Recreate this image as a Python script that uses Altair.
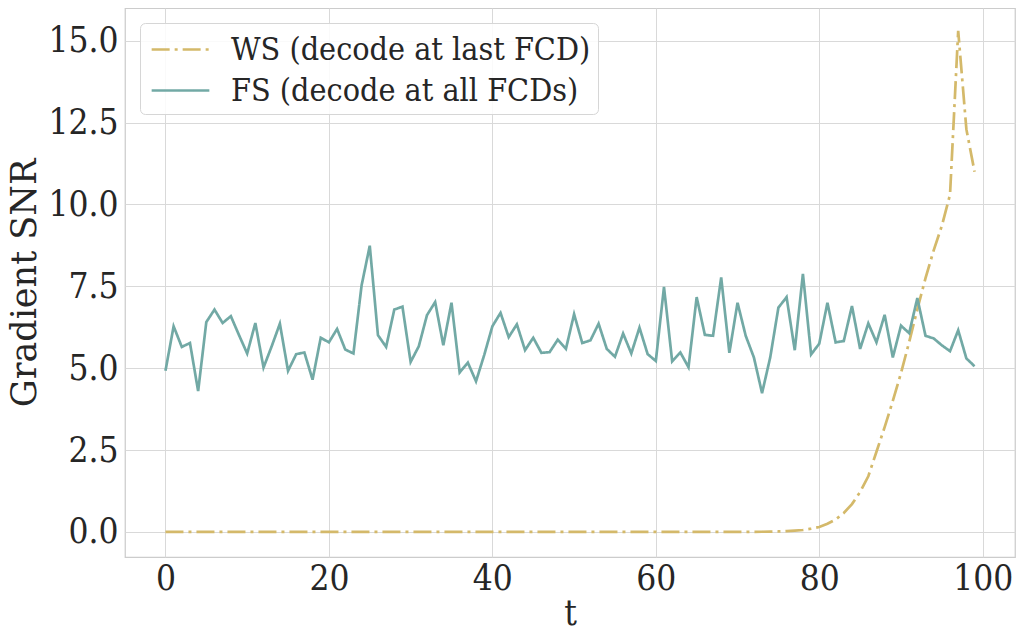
import altair as alt
import pandas as pd

WS_LABEL = "WS (decode at last FCD)"
FS_LABEL = "FS (decode at all FCDs)"

t_values = list(range(100))

fs_values = [
    4.92, 6.28, 5.65, 5.77, 4.30, 6.41, 6.79, 6.38, 6.59, 6.01,
    5.45, 6.38, 5.02, 5.67, 6.36, 4.92, 5.43, 5.48, 4.65, 5.93,
    5.79, 6.20, 5.57, 5.45, 7.53, 8.74, 6.01, 5.65, 6.79, 6.88,
    5.19, 5.67, 6.62, 7.02, 5.70, 7.00, 4.87, 5.17, 4.60, 5.40,
    6.28, 6.69, 5.95, 6.34, 5.55, 5.93, 5.47, 5.49, 5.87, 5.59,
    6.65, 5.77, 5.85, 6.36, 5.59, 5.35, 6.06, 5.45, 6.24, 5.43,
    5.22, 7.48, 5.21, 5.48, 5.03, 7.17, 6.02, 5.99, 7.77, 5.47,
    7.00, 5.99, 5.33, 4.24, 5.33, 6.85, 7.17, 5.55, 7.88, 5.42,
    5.75, 7.00, 5.79, 5.83, 6.90, 5.59, 6.37, 5.79, 6.63, 5.33,
    6.30, 6.07, 7.14, 5.99, 5.91, 5.70, 5.52, 6.16, 5.30, 5.06,
]

ws_values = [
    0.0, 0.0, 0.0, 0.0, 0.0, 0.0, 0.0, 0.0, 0.0, 0.0,
    0.0, 0.0, 0.0, 0.0, 0.0, 0.0, 0.0, 0.0, 0.0, 0.0,
    0.0, 0.0, 0.0, 0.0, 0.0, 0.0, 0.0, 0.0, 0.0, 0.0,
    0.0, 0.0, 0.0, 0.0, 0.0, 0.0, 0.0, 0.0, 0.0, 0.0,
    0.0, 0.0, 0.0, 0.0, 0.0, 0.0, 0.0, 0.0, 0.0, 0.0,
    0.0, 0.0, 0.0, 0.0, 0.0, 0.0, 0.0, 0.0, 0.0, 0.0,
    0.0, 0.0, 0.0, 0.0, 0.0, 0.0, 0.0, 0.0, 0.0, 0.0,
    0.001, 0.002, 0.004, 0.006, 0.01, 0.015, 0.025, 0.04, 0.06, 0.1,
    0.15, 0.25, 0.38, 0.58, 0.85, 1.22, 1.7, 2.45, 3.2, 4.0,
    4.85, 5.8, 6.8, 7.75, 8.6, 9.35, 10.3, 15.3, 12.3, 11.0,
]

series_names = [WS_LABEL, FS_LABEL]
series_colors = ["#d4b96a", "#72a9a5"]
series_dashes = [[18, 5, 3, 5], [1, 0]]

x_ticks = [0, 20, 40, 60, 80, 100]
y_ticks = [0.0, 2.5, 5.0, 7.5, 10.0, 12.5, 15.0]

rows = []
for i, t in enumerate(t_values):
    rows.append({"t": t, "value": ws_values[i], "series": WS_LABEL, "k": 0})
for i, t in enumerate(t_values):
    rows.append({"t": t, "value": fs_values[i], "series": FS_LABEL, "k": 1})
df = pd.DataFrame(rows)

FONT = "DejaVu Serif Condensed, DejaVu Serif"
TXT = "#262626"

chart = (
    alt.Chart(df)
    .mark_line(strokeWidth=2.7, strokeCap="butt")
    .encode(
        x=alt.X(
            "t:Q",
            title="t",
            scale=alt.Scale(domain=[-4.95, 103.95], nice=False, zero=False),
            axis=alt.Axis(values=x_ticks, format="d"),
        ),
        y=alt.Y(
            "value:Q",
            title="Gradient SNR",
            scale=alt.Scale(domain=[-0.765, 16.0], nice=False, zero=False),
            axis=alt.Axis(values=y_ticks, format=".1f"),
        ),
        color=alt.Color(
            "series:N",
            scale=alt.Scale(domain=series_names, range=series_colors),
            legend=alt.Legend(title=None),
        ),
        strokeDash=alt.StrokeDash(
            "series:N",
            scale=alt.Scale(domain=series_names, range=series_dashes),
            legend=alt.Legend(title=None),
        ),
        order=alt.Order("k:Q"),
        detail="series:N",
    )
    .properties(
        width=890,
        height=549,
        autosize=alt.AutoSizeParams(type="none"),
        padding={"left": 117, "top": 0, "right": 1, "bottom": 80},
    )
    .configure_view(stroke="#cccccc", strokeWidth=1.25)
    .configure_axis(
        domain=False,
        ticks=False,
        grid=True,
        gridColor="#d9d9d9",
        gridWidth=1,
        labelFont=FONT,
        labelFontSize=35,
        labelColor=TXT,
        titleFont=FONT,
        titleFontSize=35,
        titleFontWeight="normal",
        titleColor=TXT,
    )
    .configure_axisX(labelPadding=4, titlePadding=0)
    .configure_axisY(labelPadding=7, titlePadding=5, titleFont="DejaVu Serif")
    .configure_legend(
        orient="top-left",
        offset=15,
        padding=7,
        fillColor="rgba(255,255,255,0.85)",
        strokeColor="#d6d6d6",
        cornerRadius=5,
        symbolType="M-1.6,0H1.6",
        symbolSize=1300,
        symbolOffset=14,
        symbolStrokeWidth=2.7,
        labelFont=FONT,
        labelFontSize=32,
        labelColor=TXT,
        labelOffset=31,
        rowPadding=5,
        labelLimit=600,
    )
)

chart.save("out.html", embed_options={"renderer": "svg", "actions": False})
